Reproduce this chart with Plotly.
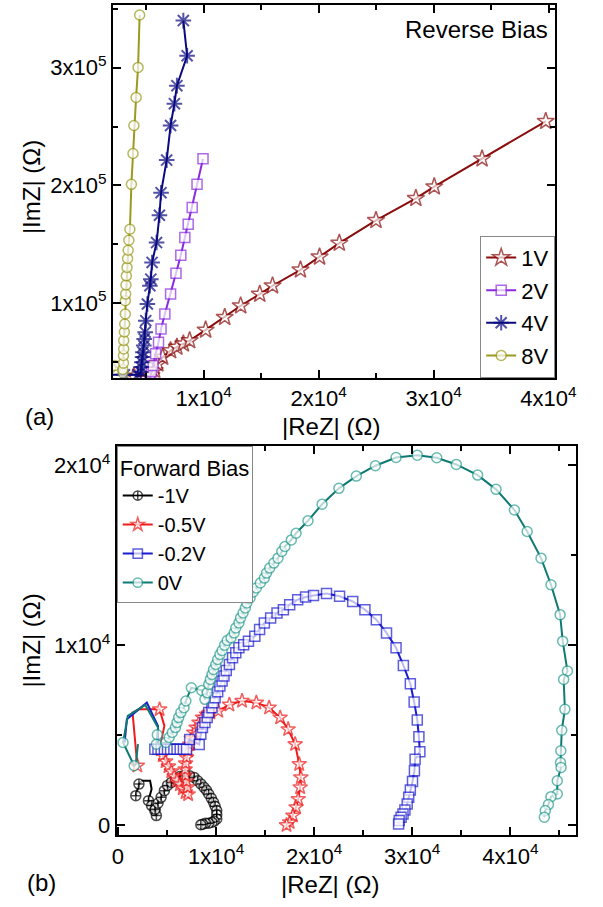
import plotly.graph_objects as go

# ---------------- data: panel (a) reverse bias ----------------
re_1V = [3930, 5450, 5740, 6010, 6430, 7120, 7670, 8230, 8780, 10170, 11830, 13220, 14880, 15990,
         18420, 20080, 21800, 24990, 28460, 30060, 34220, 39760]
im_1V = [37900, 38400, 42600, 48300, 54000, 59600, 62500, 65300, 68100, 77100, 87900, 97700, 107600,
         114700, 128200, 139200, 150900, 170300, 189000, 198900, 222600, 254500]

re_2V = [5300, 5450, 5600, 5820, 6070, 6290, 6620, 7120, 7590, 8010, 8360, 8650, 9000, 9420, 9940]
im_2V = [33900, 41300, 46900, 56800, 66700, 78000, 90700, 107600, 125400, 140700, 155700, 167000,
         181100, 200900, 222600]

re_4V = [1440, 3100, 4270, 4540, 4570, 4620, 4680, 4710, 4790, 4820, 4910, 4960, 5100, 5320, 5400,
         5510, 5900, 6150, 6290, 6780, 7120, 7450, 7670, 8560, 8230]
im_4V = [39000, 39000, 39000, 41300, 45500, 49700, 54000, 58200, 63800, 69500, 75200, 85000, 99200,
         114700, 120300, 134500, 151400, 174600, 193800, 221500, 250900, 269500, 284800, 310200, 340100]

re_8V = [1900, 2270, 2980, 2960, 3020, 3020, 3040, 3040, 3100, 3130, 3180, 3180, 3210, 3240, 3270,
         3330, 3380, 3430, 3490, 3580, 3710, 3850, 3930, 4120, 4290, 4430]
im_8V = [45000, 46900, 40500, 43500, 48900, 55400, 61000, 68100, 75400, 82200, 90700, 102000, 107600,
         115300, 123100, 130300, 137900, 144900, 153400, 162700, 200900, 227100, 250900, 274800,
         300300, 344900]

# ---------------- data: panel (b) forward bias ----------------
re_m1V = [1816, 2136, 2456, 3272, 3427, 3107, 3427, 3757, 3913, 3787, 4078, 4398, 4728, 5049, 5437,
          5855, 6311, 6796, 7311, 7767, 8126, 8447, 8767, 9029, 9253, 9515, 9738, 9903, 10068, 10068,
          10068, 9806, 9583, 9253, 8932, 8641, 8447]
im_m1V = [1645, 2288, 2476, 2476, 2011, 1368, 1091, 814, 537, 886, 1219, 1551, 1922, 2216, 2382,
          2565, 2715, 2770, 2753, 2659, 2476, 2299, 2105, 1939, 1734, 1496, 1274, 1053, 814, 582,
          349, 222, 166, 111, 111, 55, 28]

re_m05V = [1971, 1485, 2136, 4243, 4728, 4369, 4369, 4563, 4855, 5146, 5437, 5728, 6020, 6311, 6602,
           6893, 7155, 7088, 6990, 6893, 6845, 6893, 6990, 7136, 7311, 7476, 7719, 7961, 8253, 8612,
           9029, 9418, 10224, 11360, 12651, 14107, 15408, 16535, 17350, 18059, 18476, 18641, 18573,
           18379, 18156, 17835, 17505, 17185]
im_m05V = [3307, 6260, 6443, 6443, 5523, 4598, 4210, 3878, 3546, 3269, 2992, 2715, 2493, 2271, 2050,
           1828, 1717, 2105, 2438, 2770, 3102, 3435, 3767, 4155, 4487, 4820, 5152, 5429, 5706, 5983,
           6149, 6260, 6354, 6703, 6908, 6814, 6537, 5983, 5335, 4504, 3396, 2659, 2105, 1457, 997,
           537, 166, 0]

re_m02V = [680, 903, 2942, 4078, 4078, 3757, 4078, 4398, 4728, 5049, 5369, 5699, 6020, 6340, 6670,
           6990, 7311, 8282, 8447, 8612, 8864, 9097, 9253, 9583, 9738, 9903, 10165, 10389, 10612,
           10806, 11039, 11360, 11680, 12010, 12330, 12816, 13301, 13952, 14437, 14923, 15564, 16214,
           16865, 17505, 18321, 19127, 19933, 21263, 22593, 23933, 25176, 26341, 27379, 28350, 29098,
           29807, 30195, 30515, 30680, 30778, 30292, 30224, 30030, 29807, 29642, 29487, 29253, 29059,
           28865, 28671, 28612]
im_m02V = [4598, 5889, 6814, 5523, 4504, 4227, 4227, 4227, 4227, 4227, 4227, 4227, 4227, 4227, 4227,
           4227, 4764, 4487, 5058, 5429, 5706, 5983, 6260, 6537, 6814, 7091, 7424, 7739, 8016, 8293,
           8604, 8936, 9307, 9584, 9861, 10027, 10232, 10509, 10875, 11246, 11523, 11800, 11983,
           12260, 12537, 12687, 12770, 12881, 12725, 12437, 11983, 11429, 10692, 9861, 8881, 7867,
           6853, 5856, 4914, 4083, 3673, 3030, 2438, 1956, 1551, 1180, 848, 626, 443, 260, 72]

re_0V = [2039, 1816, 1651, 515, 1000, 2786, 4078, 4010, 3913, 4884, 5214, 5534, 5855, 6020, 6185,
         6408, 6728, 6922, 7476, 8544, 8864, 9097, 9253, 9418, 9583, 9738, 9971, 10165, 10389, 10612,
         10874, 11136, 11525, 11845, 12010, 12330, 12496, 12748, 12981, 13136, 13466, 13787, 14107,
         14515, 14923, 15146, 15467, 15894, 16311, 16699, 17020, 17670, 18156, 19370, 20806, 22525,
         24302, 26243, 28350, 30515, 32496, 34496, 36671, 38545, 40419, 41720, 43137, 44147, 45079,
         45341, 45826, 45438, 45564, 45244, 45147, 45118, 45176, 44788, 44788, 44147, 43885, 43564,
         43467]
im_0V = [4504, 3396, 3307, 4598, 6077, 6687, 5429, 5025, 4504, 4598, 4875, 5152, 5429, 5706, 5983,
         6260, 6537, 6908, 7645, 7496, 6997, 7368, 7828, 8105, 8382, 8659, 8936, 9213, 9490, 9712,
         10011, 10266, 10415, 10692, 10969, 11246, 11523, 11800, 12077, 12354, 12631, 12964, 13185,
         13462, 13739, 14016, 14293, 14570, 14847, 15218, 15495, 15861, 16232, 16925, 17839, 18725,
         19407, 19983, 20443, 20570, 20426, 20055, 19462, 18670, 17523, 16326, 14847, 13368, 11706,
         10232, 8570, 8105, 6443, 5280, 4138, 3490, 3213, 2476, 1734, 1590, 1147, 814, 443]

# vertices drawn as plain line corners (no marker)
BARE_m1V = [2, 3, 4]
BARE_m05V = [1, 2, 4, 5]
BARE_m02V = [0, 1, 2, 3, 4]
BARE_0V = [0, 1, 4, 5, 6]

# tick labels
top_x_ticks = [10000, 20000, 30000, 40000]
top_x_text = ["1x10<sup>4</sup>", "2x10<sup>4</sup>", "3x10<sup>4</sup>", "4x10<sup>4</sup>"]
top_y_ticks = [100000, 200000, 300000]
top_y_text = ["1x10<sup>5</sup>", "2x10<sup>5</sup>", "3x10<sup>5</sup>"]
bot_x_ticks = [0, 10000, 20000, 30000, 40000]
bot_x_text = ["0", "1x10<sup>4</sup>", "2x10<sup>4</sup>", "3x10<sup>4</sup>", "4x10<sup>4</sup>"]
bot_y_ticks = [0, 10000, 20000]
bot_y_text = ["0", "1x10<sup>4</sup>", "2x10<sup>4</sup>"]

FONT = "Liberation Sans, Arial, sans-serif"
TXT = 24
TICK = 22

fig = go.Figure()


def add(x, y, name, color, symbol, size, xa, ya, legend, bare=(), line_color=None,
        fill="white", mlw=1.5):
    sizes = [0 if i in bare else size for i in range(len(x))]
    fig.add_trace(go.Scatter(
        x=x, y=y, mode="lines+markers", name=name, xaxis=xa, yaxis=ya, legend=legend,
        legendgroup=name,
        line=dict(color=line_color or color, width=2),
        marker=dict(symbol=symbol, size=sizes, color=fill,
                    line=dict(color=color, width=mlw)),
    ))


add(re_1V, im_1V, "1V", "#8b0d0d", "star", 13, "x", "y", "legend")
add(re_2V, im_2V, "2V", "#8a2be2", "square", 10, "x", "y", "legend")
add(re_4V, im_4V, "4V", "#0a0a80", "asterisk-open", 13, "x", "y", "legend", fill="#0a0a80", mlw=2)
add(re_8V, im_8V, "8V", "#9a9a1e", "circle", 10, "x", "y", "legend")

add(re_m1V, im_m1V, "-1V", "#000000", "circle-cross", 10, "x2", "y2", "legend2", bare=BARE_m1V)
add(re_m05V, im_m05V, "-0.5V", "#ee1c1c", "star", 11, "x2", "y2", "legend2", bare=BARE_m05V)
add(re_m02V, im_m02V, "-0.2V", "#1c1cd0", "square", 10, "x2", "y2", "legend2", bare=BARE_m02V)
add(re_0V, im_0V, "0V", "#2a9d90", "circle", 10, "x2", "y2", "legend2", bare=BARE_0V,
    line_color="#0f7a72")

axis_common = dict(
    showline=True, linecolor="black", linewidth=2, mirror="allticks",
    ticks="inside", ticklen=8, tickwidth=1.5, tickcolor="black",
    showgrid=False, zeroline=False, tickmode="array",
    tickfont=dict(family=FONT, size=TICK, color="black"),
)


def minor(vals):
    return dict(tickmode="array", tickvals=vals, ticks="inside", ticklen=5, tickwidth=1.5,
                tickcolor="black", showgrid=False)


fig.update_layout(
    width=603, height=907,
    margin=dict(l=0, r=0, t=0, b=0),
    paper_bgcolor="white", plot_bgcolor="white",
    font=dict(family=FONT, size=TXT, color="black"),
    xaxis=dict(axis_common, domain=[0.1874, 0.9552], range=[2105, 40582], anchor="y",
               tickvals=top_x_ticks, ticktext=top_x_text,
               minor=minor([5000, 15000, 25000, 35000])),
    yaxis=dict(axis_common, domain=[0.5821, 0.9945], range=[36440, 353390], anchor="x",
               tickvals=top_y_ticks, ticktext=top_y_text,
               minor=minor([50000, 150000, 250000, 350000])),
    xaxis2=dict(axis_common, domain=[0.194, 0.9917], range=[-127, 46720], anchor="y2",
                tickvals=bot_x_ticks, ticktext=bot_x_text,
                minor=minor([5000, 15000, 25000, 35000, 45000])),
    yaxis2=dict(axis_common, domain=[0.0761, 0.5061], range=[-554, 21053], anchor="x2",
                tickvals=bot_y_ticks, ticktext=bot_y_text,
                minor=minor([5000, 15000])),
    legend=dict(x=0.9552, y=0.5821, xanchor="right", yanchor="bottom",
                bgcolor="white", bordercolor="#888888", borderwidth=1,
                font=dict(family=FONT, size=22, color="black"), tracegroupgap=1),
    legend2=dict(x=0.194, y=0.5061, xanchor="left", yanchor="top",
                 bgcolor="white", bordercolor="#888888", borderwidth=1,
                 font=dict(family=FONT, size=20, color="black"), tracegroupgap=0,
                 title=dict(text="Forward Bias", font=dict(family=FONT, size=22, color="black"))),
    annotations=[
        dict(text="Reverse Bias", x=571 / 603, y=1 - 30 / 907, xref="paper", yref="paper",
             xanchor="right", yanchor="middle", showarrow=False, font=dict(size=TXT)),
        dict(text="|ReZ| (Ω)", x=341 / 603, y=1 - 428 / 907, xref="paper", yref="paper",
             xanchor="center", yanchor="middle", showarrow=False, font=dict(size=TXT)),
        dict(text="|ReZ| (Ω)", x=340 / 603, y=1 - 887 / 907, xref="paper", yref="paper",
             xanchor="center", yanchor="middle", showarrow=False, font=dict(size=TXT)),
        dict(text="|ImZ| (Ω)", x=28 / 603, y=1 - 188 / 907, xref="paper", yref="paper",
             xanchor="center", yanchor="middle", showarrow=False, textangle=-90,
             font=dict(size=TXT)),
        dict(text="|ImZ| (Ω)", x=28 / 603, y=1 - 643 / 907, xref="paper", yref="paper",
             xanchor="center", yanchor="middle", showarrow=False, textangle=-90,
             font=dict(size=TXT)),
        dict(text="(a)", x=36 / 603, y=1 - 418 / 907, xref="paper", yref="paper",
             xanchor="center", yanchor="middle", showarrow=False, font=dict(size=TXT)),
        dict(text="(b)", x=38 / 603, y=1 - 885 / 907, xref="paper", yref="paper",
             xanchor="center", yanchor="middle", showarrow=False, font=dict(size=TXT)),
    ],
)

fig.write_html("out.html", post_script="document.body.style.margin='0';",
               config={"displayModeBar": False})
